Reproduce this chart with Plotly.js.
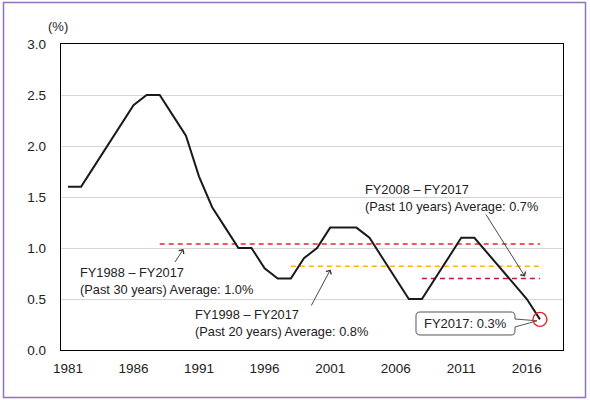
<!DOCTYPE html>
<html>
<head>
<meta charset="utf-8">
<script src="https://cdn.plot.ly/plotly-3.0.1.min.js"></script>
<style>html,body{margin:0;padding:0;background:#fff;}#chart{width:590px;height:400px;}</style>
</head>
<body>
<div id="chart"></div>
<script>
// Data
const years = [1981,1982,1983,1984,1985,1986,1987,1988,1989,1990,1991,1992,1993,1994,1995,1996,1997,1998,1999,2000,2001,2002,2003,2004,2005,2006,2007,2008,2009,2010,2011,2012,2013,2014,2015,2016,2017];
const rate  = [1.6,1.6,1.8,2.0,2.2,2.4,2.5,2.5,2.3,2.1,1.7,1.4,1.2,1.0,1.0,0.8,0.7,0.7,0.9,1.0,1.2,1.2,1.2,1.1,0.9,0.7,0.5,0.5,0.7,0.9,1.1,1.1,0.95,0.8,0.65,0.5,0.3];
const avg30Years = [1988, 2017];
const avg30 = [1.04, 1.04];
const avg20Years = [1998, 2017];
const avg20 = [0.82, 0.82];
const avg10Years = [2008, 2017];
const avg10 = [0.70, 0.70];
const xTicks = [1981,1986,1991,1996,2001,2006,2011,2016];
const yTicks = [0.0,0.5,1.0,1.5,2.0,2.5,3.0];
const yTickText = ['0.0','0.5','1.0','1.5','2.0','2.5','3.0'];
const lastYear = 2017, lastValue = 0.3;

const FONT = '"Liberation Sans", Arial, sans-serif';
const TXT = '#222';

// plot area in px: left 61, right 563, top 44, bottom 350
const L=61, R=563, T=44, B=350;
const px = X => (X - L) / (R - L);
const py = Y => (B - Y) / (B - T);

const traces = [
  {x: avg30Years, y: avg30, mode:'lines', line:{color:'#e8232b', width:1.5, dash:'5px,4px'}, hoverinfo:'skip'},
  {x: avg20Years, y: avg20, mode:'lines', line:{color:'#f6b800', width:1.5, dash:'5px,4px'}, hoverinfo:'skip'},
  {x: avg10Years, y: avg10, mode:'lines', line:{color:'#c2182b', width:1.5, dash:'5px,4px'}, hoverinfo:'skip'},
  {x: years, y: rate, mode:'lines', line:{color:'#1a1a1a', width:2}, hoverinfo:'skip'}
];

// callout box path (px coords -> paper)
function P(X,Y){ return px(X).toFixed(5)+','+py(Y).toFixed(5); }
const boxPath = 'M'+P(420,312)+' L'+P(511,312)+' Q'+P(515,312)+' '+P(515,316)+
  ' L'+P(515,319)+' L'+P(537,320.8)+' L'+P(515,327)+' L'+P(515,331)+
  ' Q'+P(515,335)+' '+P(511,335)+' L'+P(420,335)+' Q'+P(416,335)+' '+P(416,331)+
  ' L'+P(416,316)+' Q'+P(416,312)+' '+P(420,312)+' Z';

const layout = {
  width:590, height:400,
  margin:{l:L, r:590-R, t:T, b:400-B, pad:0},
  paper_bgcolor:'#fff', plot_bgcolor:'#fff',
  showlegend:false,
  font:{family:FONT, size:13, color:TXT},
  xaxis:{range:[1980.47, 2018.76], tickvals:xTicks, ticktext:xTicks.map(String),
    showgrid:false, zeroline:false, showline:true, linecolor:'#000', linewidth:1.3, mirror:true,
    ticks:'', ticklabelstandoff:5, tickfont:{family:FONT, size:13.5, color:TXT}, fixedrange:true},
  yaxis:{range:[0,3], tickvals:yTicks, ticktext:yTickText,
    showgrid:true, gridcolor:'#d6d6d6', gridwidth:1, zeroline:false,
    showline:true, linecolor:'#000', linewidth:1.3, mirror:true,
    ticks:'', ticklabelstandoff:11, tickfont:{family:FONT, size:13.5, color:TXT}, fixedrange:true},
  shapes:[
    {type:'rect', xref:'paper', yref:'paper', x0:px(3.5), x1:px(585.5), y0:py(397.5), y1:py(2.5),
      line:{color:'#9372b8', width:1.5}, fillcolor:'rgba(0,0,0,0)', layer:'below'},
    {type:'path', xref:'paper', yref:'paper', path:boxPath, line:{color:'#555', width:1}, fillcolor:'#fff', layer:'above'},
    {type:'circle', xref:'x', yref:'y', xsizemode:'pixel', ysizemode:'pixel', xanchor:lastYear, yanchor:lastValue,
      x0:-7, x1:7, y0:-7, y1:7, line:{color:'#e8232b', width:1.4}, fillcolor:'rgba(0,0,0,0)'}
  ],
  annotations:[
    {xref:'paper', yref:'paper', x:px(57.5), y:py(27), text:'(%)', showarrow:false, xanchor:'center', yanchor:'middle', font:{size:13}},
    {xref:'paper', yref:'paper', x:px(78), y:py(280.5), text:'FY1988 – FY2017<br>(Past 30 years) Average: 1.0%', showarrow:false, xanchor:'left', yanchor:'middle', align:'left', font:{size:12.8}},
    {xref:'paper', yref:'paper', x:px(193), y:py(322.5), text:'FY1998 – FY2017<br>(Past 20 years) Average: 0.8%', showarrow:false, xanchor:'left', yanchor:'middle', align:'left', font:{size:12.8}},
    {xref:'paper', yref:'paper', x:px(363), y:py(198), text:'FY2008 – FY2017<br>(Past 10 years) Average: 0.7%', showarrow:false, xanchor:'left', yanchor:'middle', align:'left', font:{size:12.8}},
    {xref:'paper', yref:'paper', x:px(465.5), y:py(323.5), text:'FY2017: '+lastValue.toFixed(1)+'%', showarrow:false, xanchor:'center', yanchor:'middle', font:{size:13}},
    // arrows
    {xref:'paper', yref:'paper', x:px(183.5), y:py(249), ax:174-183.5, ay:263.5-249, text:'', showarrow:true, arrowhead:4, arrowsize:1.3, arrowwidth:0.9, arrowcolor:'#333', standoff:0, startstandoff:0},
    {xref:'paper', yref:'paper', x:px(330.5), y:py(269.5), ax:310.5-330.5, ay:307-269.5, text:'', showarrow:true, arrowhead:4, arrowsize:1.3, arrowwidth:0.9, arrowcolor:'#333', standoff:0, startstandoff:0},
    {xref:'paper', yref:'paper', x:px(525), y:py(276.5), ax:485-525, ay:213-276.5, text:'', showarrow:true, arrowhead:4, arrowsize:1.3, arrowwidth:0.9, arrowcolor:'#333', standoff:0, startstandoff:0}
  ]
};

Plotly.newPlot('chart', traces, layout, {staticPlot:true, displayModeBar:false});
</script>
</body>
</html>
